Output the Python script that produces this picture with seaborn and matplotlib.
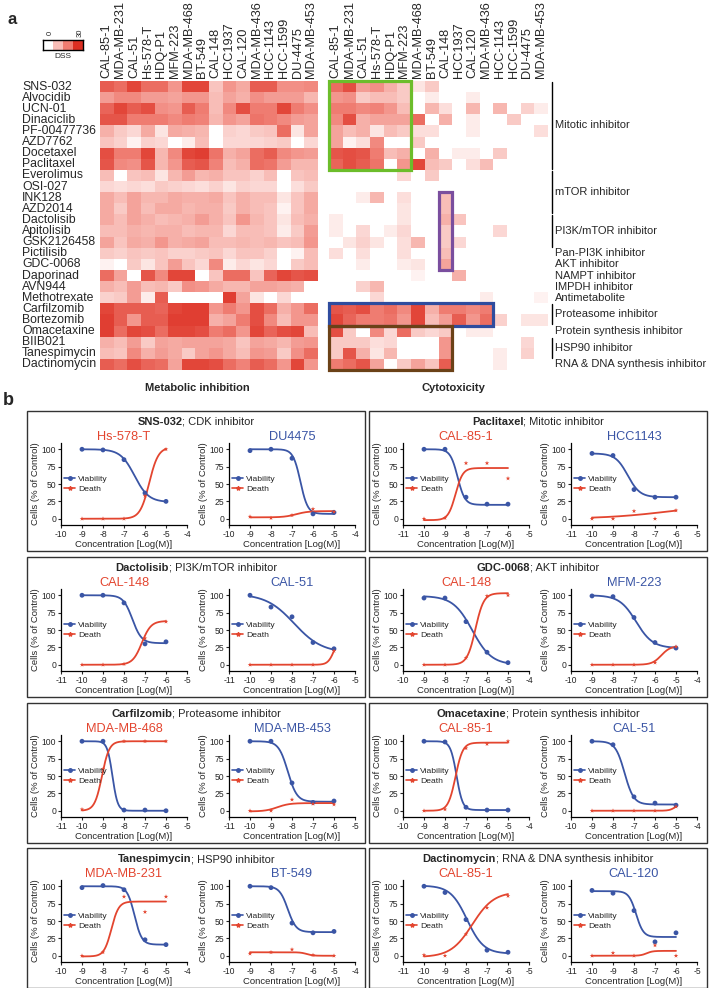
import numpy as np
import pandas as pd
import matplotlib
matplotlib.use("Agg")
import matplotlib.pyplot as plt
import seaborn as sns
from matplotlib.colors import LinearSegmentedColormap
from matplotlib.patches import Rectangle
from matplotlib.lines import Line2D

# --- DATA: panel a (DSS heatmaps) ---
CELL_LINES = ["CAL-85-1", "MDA-MB-231", "CAL-51", "Hs-578-T", "HDQ-P1", "MFM-223",
              "MDA-MB-468", "BT-549", "CAL-148", "HCC1937", "CAL-120", "MDA-MB-436",
              "HCC-1143", "HCC-1599", "DU-4475", "MDA-MB-453"]
DRUGS = ["SNS-032", "Alvocidib", "UCN-01", "Dinaciclib", "PF-00477736", "AZD7762",
         "Docetaxel", "Paclitaxel", "Everolimus", "OSI-027", "INK128", "AZD2014",
         "Dactolisib", "Apitolisib", "GSK2126458", "Pictilisib", "GDC-0068", "Daporinad",
         "AVN944", "Methotrexate", "Carfilzomib", "Bortezomib", "Omacetaxine", "BIIB021",
         "Tanespimycin", "Dactinomycin"]

META = [
    [24, 22, 27, 22, 22, 16, 27, 27, 9, 16, 13, 24, 24, 17, 17, 18],
    [15, 18, 18, 15, 15, 14, 16, 16, 10, 14, 12, 17, 15, 15, 15, 11],
    [23, 27, 24, 26, 17, 16, 24, 20, 10, 18, 26, 20, 20, 27, 20, 17],
    [25, 25, 20, 20, 20, 18, 20, 19, 11, 16, 14, 21, 20, 18, 15, 14],
    [12, 8, 6, 13, 4, 13, 12, 11, 0, 7, 6, 8, 9, 22, 4, 14],
    [9, 7, 2, 7, 6, 0, 3, 10, 0, 6, 6, 6, 7, 8, 0, 6],
    [26, 20, 20, 27, 11, 18, 27, 28, 21, 12, 14, 22, 24, 18, 16, 15],
    [25, 18, 17, 25, 11, 16, 24, 25, 19, 10, 12, 22, 21, 15, 11, 11],
    [10, 0, 9, 10, 4, 11, 15, 11, 12, 9, 9, 7, 10, 0, 9, 10],
    [6, 5, 6, 5, 8, 7, 6, 5, 7, 4, 7, 6, 6, 0, 5, 8],
    [13, 10, 14, 11, 11, 13, 12, 12, 13, 9, 12, 10, 10, 4, 9, 13],
    [13, 8, 14, 10, 13, 13, 11, 12, 12, 8, 12, 10, 9, 2, 9, 13],
    [13, 10, 14, 12, 10, 11, 12, 15, 12, 9, 16, 11, 9, 4, 10, 12],
    [10, 10, 12, 11, 12, 12, 10, 11, 11, 6, 10, 10, 9, 3, 8, 15],
    [14, 9, 13, 12, 16, 12, 13, 14, 10, 10, 11, 10, 11, 9, 10, 16],
    [8, 7, 9, 8, 9, 7, 7, 8, 9, 6, 9, 9, 7, 0, 2, 10],
    [2, 0, 8, 4, 9, 15, 9, 6, 18, 3, 6, 4, 6, 0, 8, 10],
    [22, 14, 0, 25, 18, 27, 27, 0, 9, 22, 22, 9, 23, 27, 25, 26],
    [12, 10, 15, 10, 11, 8, 17, 16, 13, 11, 11, 14, 14, 13, 12, 0],
    [7, 8, 15, 3, 24, 0, 0, 0, 0, 28, 14, 4, 0, 6, 0, 0],
    [27, 24, 24, 24, 23, 27, 28, 28, 16, 20, 16, 26, 22, 12, 16, 22],
    [28, 24, 16, 24, 24, 28, 28, 28, 12, 14, 20, 26, 18, 10, 16, 16],
    [28, 22, 27, 26, 22, 27, 27, 26, 20, 22, 16, 27, 23, 26, 27, 10],
    [12, 10, 15, 8, 14, 13, 14, 14, 14, 13, 9, 14, 13, 11, 15, 16],
    [10, 9, 18, 12, 15, 13, 8, 14, 16, 13, 10, 16, 15, 8, 17, 22],
    [24, 22, 26, 23, 22, 14, 27, 27, 26, 22, 19, 24, 22, 16, 27, 16],
]

CYTO = [
    [22, 26, 15, 17, 12, 8, 4, 8, 0, 0, 0, 0, 0, 0, 0, 0],
    [16, 17, 8, 10, 10, 8, 0, 3, 0, 0, 3, 0, 0, 0, 0, 0],
    [20, 20, 18, 19, 16, 10, 0, 11, 5, 0, 11, 0, 11, 0, 7, 3],
    [18, 26, 12, 14, 14, 14, 22, 0, 12, 0, 3, 0, 0, 8, 0, 0],
    [14, 10, 12, 4, 10, 8, 5, 5, 0, 0, 3, 0, 0, 0, 0, 5],
    [14, 2, 5, 18, 0, 0, 8, 0, 0, 0, 0, 0, 0, 0, 0, 0],
    [25, 26, 25, 20, 10, 12, 0, 12, 0, 3, 3, 0, 8, 0, 0, 0],
    [23, 26, 24, 21, 0, 16, 27, 10, 8, 0, 5, 10, 0, 0, 0, 0],
    [0, 0, 0, 0, 0, 6, 0, 8, 0, 0, 0, 0, 0, 0, 0, 0],
    [0, 0, 0, 0, 0, 0, 0, 0, 0, 0, 0, 0, 0, 0, 0, 0],
    [0, 0, 3, 11, 0, 5, 0, 0, 10, 0, 0, 0, 0, 0, 0, 0],
    [0, 0, 0, 0, 0, 4, 0, 0, 10, 0, 0, 0, 0, 0, 0, 0],
    [3, 0, 0, 0, 0, 4, 0, 0, 12, 9, 0, 0, 0, 0, 0, 0],
    [3, 0, 6, 0, 3, 6, 0, 0, 8, 0, 0, 0, 6, 0, 0, 0],
    [0, 4, 7, 4, 0, 5, 11, 0, 8, 6, 0, 0, 0, 0, 0, 0],
    [5, 0, 5, 0, 0, 5, 0, 0, 10, 0, 0, 0, 0, 0, 0, 0],
    [0, 0, 3, 0, 0, 3, 4, 0, 14, 0, 0, 0, 0, 0, 0, 0],
    [0, 0, 0, 0, 0, 0, 2, 0, 0, 12, 0, 0, 0, 0, 0, 0],
    [0, 0, 7, 11, 0, 0, 0, 0, 0, 0, 0, 0, 0, 0, 0, 0],
    [0, 0, 0, 6, 0, 0, 0, 0, 0, 0, 0, 3, 0, 0, 0, 2],
    [25, 24, 26, 20, 22, 18, 27, 12, 20, 20, 18, 20, 0, 0, 0, 0],
    [27, 23, 20, 20, 21, 16, 27, 10, 15, 24, 16, 22, 7, 0, 4, 4],
    [26, 8, 0, 18, 6, 22, 8, 6, 8, 0, 3, 3, 0, 0, 0, 0],
    [8, 8, 8, 5, 6, 0, 0, 0, 16, 0, 0, 0, 0, 0, 6, 0],
    [8, 25, 12, 4, 11, 0, 0, 0, 16, 0, 0, 0, 3, 0, 7, 0],
    [20, 22, 25, 14, 0, 8, 14, 9, 24, 0, 0, 0, 3, 0, 0, 0],
]

DSS_LEGEND = [0, 10, 20, 30]

GROUP_LABELS = ["Mitotic inhibitor", "mTOR inhibitor", "PI3K/mTOR inhibitor",
                "Pan-PI3K inhibitor", "AKT inhibitor", "NAMPT inhibitor",
                "IMPDH inhibitor", "Antimetabolite", "Proteasome inhibitor",
                "Protein synthesis inhibitor", "HSP90 inhibitor",
                "RNA & DNA synthesis inhibitor"]
GROUP_FIRST = [0, 8, 12, 15, 16, 17, 18, 19, 20, 22, 23, 25]
GROUP_LAST = [7, 11, 14, 15, 16, 17, 18, 19, 21, 22, 24, 25]

# highlighted blocks: (first col, last col, first row, last row, colour)
HIGHLIGHTS = [(0, 5, 0, 7, "#6cbd2b"), (8, 8, 10, 16, "#7a4e9e"),
              (0, 11, 20, 21, "#2f4c9e"), (0, 8, 22, 25, "#6b4117")]

# --- DATA: panel b (dose response) ---
PANEL_DRUGS = ["SNS-032", "Paclitaxel", "Dactolisib", "GDC-0068",
               "Carfilzomib", "Omacetaxine", "Tanespimycin", "Dactinomycin"]
PANEL_MECH = ["CDK inhibitor", "Mitotic inhibitor", "PI3K/mTOR inhibitor", "AKT inhibitor",
              "Proteasome inhibitor", "Protein synthesis inhibitor", "HSP90 inhibitor",
              "RNA & DNA synthesis inhibitor"]
SENSITIVE = ["Hs-578-T", "CAL-85-1", "CAL-148", "CAL-148",
             "MDA-MB-468", "CAL-85-1", "MDA-MB-231", "CAL-85-1"]
RESISTANT = ["DU4475", "HCC1143", "CAL-51", "MFM-223",
             "MDA-MB-453", "CAL-51", "BT-549", "CAL-120"]
CONC = [
    [-9, -8, -7, -6, -5],
    [-10, -9, -8, -7, -6],
    [-10, -9, -8, -7, -6],
    [-9, -8, -7, -6, -5],
    [-10, -9, -8, -7, -6],
    [-9, -8, -7, -6, -5],
    [-9, -8, -7, -6, -5],
    [-10, -9, -8, -7, -6],
]
# two series per panel: sensitive line then resistant line
VIAB_PTS = [
    [100, 99, 85, 37, 25], [98, 100, 87, 7, 9],
    [100, 100, 31, 21, 21], [94, 91, 42, 31, 31],
    [100, 100, 89, 30, 33], [100, 83, 69, 32, 23],
    [96, 96, 62, 18, 3], [99, 98, 68, 32, 24],
    [100, 100, 1, 1, 0], [100, 100, 40, 12, 14],
    [100, 99, 5, 1, 1], [100, 95, 20, 11, 8],
    [98, 101, 95, 23, 16], [100, 98, 47, 33, 35],
    [100, 91, 52, 8, 5], [94, 90, 65, 20, 33],
]
DEATH_PTS = [
    [0, 0, 0, 33, 100], [3, 1, 5, 14, 10],
    [0, 1, 80, 80, 58], [0, 0, 11, 0, 12],
    [0, 0, 1, 38, 62], [0, 0, 0, 0, 20],
    [0, 0, 10, 99, 100], [0, 0, 0, 3, 26],
    [2, 60, 100, 100, 100], [0, 0, 16, 10, 9],
    [0, 2, 90, 96, 100], [0, 0, 0, 0, 6],
    [0, 5, 85, 63, 85], [3, 5, 9, 1, 0],
    [1, 0, 31, 69, 86], [0, 4, 0, 15, 0],
]
# fitted 4PL curves: (left plateau, right plateau, logEC50, slope)
VIAB_FIT = [
    (100, 24, -6.5, 1.3), (100, 7, -6.6, 2.5),
    (100, 20, -8.4, 2.5), (94, 31, -8.3, 1.5),
    (100, 31, -7.6, 2.0), (102, 17, -7.9, 0.65),
    (99, 0, -6.7, 0.95), (100, 24, -6.9, 1.1),
    (100, 0, -8.55, 3.5), (100, 13, -8.2, 2.0),
    (100, 1, -7.45, 3.0), (100, 9, -7.45, 2.0),
    (100, 16, -6.5, 2.5), (100, 34, -7.2, 2.2),
    (101, 3, -7.95, 1.1), (93, 27, -7.9, 2.5),
]
DEATH_FIT = [
    (0, 103, -5.8, 2.0), (2, 11, -6.8, 1.5),
    (-2, 73, -8.5, 2.5), (0, 20, -6.5, 0.3),
    (0, 63, -7.15, 2.0), (0, 40, -6.0, 3.0),
    (0, 103, -6.55, 2.2), (0, 27, -5.7, 2.0),
    (0, 100, -9.05, 2.5), (-1, 11, -8.7, 1.5),
    (0, 98, -7.5, 2.5), (0, 12, -5.0, 3.0),
    (-1, 78, -7.6, 2.5), (5, 0, -6.3, 3.0),
    (-2, 92, -7.7, 0.85), (0, 7, -7.4, 3.0),
]

# --- STYLE ---
W, H = 712, 988
BLUE = "#3a55a5"
RED = "#e3452f"
HEAT = LinearSegmentedColormap.from_list("dss", ["#ffffff", "#f8bdb7", "#ef7c71", "#dc2f22"])

sns.set_theme(style="white")
plt.rcParams["font.family"] = ["Liberation Sans", "DejaVu Sans"]
plt.rcParams["axes.unicode_minus"] = False


def px(x, y, w, h):
    return [x / W, 1 - (y + h) / H, w / W, h / H]


def logistic(x, p):
    left, right, ec50, slope = p
    return right + (left - right) / (1 + 10 ** ((x - ec50) * slope))


fig = plt.figure(figsize=(W / 100, H / 100), dpi=100)

# ---------------- panel a ----------------
fig.text(12 / W, 1 - 20 / H, "a", fontsize=12, fontweight="bold", ha="center", va="center")

ax_m = fig.add_axes(px(100, 81, 218, 289))
sns.heatmap(pd.DataFrame(META, index=DRUGS, columns=CELL_LINES), cmap=HEAT, vmin=0, vmax=30,
            cbar=False, ax=ax_m, xticklabels=True, yticklabels=True)
ax_m.xaxis.tick_top()
ax_m.set_xticklabels(CELL_LINES, rotation=90, fontsize=9.2)
ax_m.set_yticklabels(DRUGS, rotation=0, fontsize=8.8, ha="left")
ax_m.tick_params(axis="x", length=0, pad=2)
ax_m.tick_params(axis="y", length=0, pad=56)
ax_m.set_xlabel("")
ax_m.set_ylabel("")

ax_c = fig.add_axes(px(329, 81, 219, 289))
sns.heatmap(pd.DataFrame(CYTO, index=DRUGS, columns=CELL_LINES), cmap=HEAT, vmin=0, vmax=30,
            cbar=False, ax=ax_c, xticklabels=True, yticklabels=False)
ax_c.xaxis.tick_top()
ax_c.set_xticklabels(CELL_LINES, rotation=90, fontsize=9.2)
ax_c.tick_params(axis="x", length=0, pad=2)
ax_c.set_xlabel("")
ax_c.set_ylabel("")

for c0, c1, r0, r1, col in HIGHLIGHTS:
    ax_c.add_patch(Rectangle((c0, r0), c1 - c0 + 1, r1 - r0 + 1, fill=False,
                             ec=col, lw=2.3, clip_on=False, zorder=5))

for lab, r0, r1 in zip(GROUP_LABELS, GROUP_FIRST, GROUP_LAST):
    if r1 > r0:
        ax_c.plot([16.3, 16.3], [r0 + 0.1, r1 + 0.9], color="black", lw=1, clip_on=False)
    ax_c.text(16.5, (r0 + r1 + 1) / 2, lab, fontsize=8.0, va="center", ha="left", clip_on=False)

# DSS colour key
ax_k = fig.add_axes(px(43, 40, 40, 10))
sns.heatmap(pd.DataFrame([DSS_LEGEND]), cmap=HEAT, vmin=0, vmax=30, cbar=False, ax=ax_k,
            xticklabels=False, yticklabels=False)
for s in ax_k.spines.values():
    s.set_visible(True)
    s.set_color("black")
    s.set_linewidth(1)
fig.text(50 / W, 1 - 33 / H, "0", fontsize=5.5, rotation=90, ha="center", va="center")
fig.text(80 / W, 1 - 33 / H, "30", fontsize=5.5, rotation=90, ha="center", va="center")
fig.text(63 / W, 1 - 57 / H, "DSS", fontsize=6, ha="center", va="center")

fig.text(197 / W, 1 - 388 / H, "Metabolic inhibition", fontsize=8, fontweight="bold",
         ha="center", va="center")
fig.text(453 / W, 1 - 388 / H, "Cytotoxicity", fontsize=8, fontweight="bold",
         ha="center", va="center")

# ---------------- panel b ----------------
fig.text(8 / W, 1 - 400 / H, "b", fontsize=13, fontweight="bold", ha="center", va="center")

BOX_TOPS = [411, 557, 703, 848]
BOX_LEFTS = [27, 369]
BOX_W, BOX_H = 338, 140
renderer = fig.canvas.get_renderer()

for k in range(8):
    r, c = divmod(k, 2)
    bx, by = BOX_LEFTS[c], BOX_TOPS[r]
    fig.add_artist(Rectangle((bx / W, 1 - (by + BOX_H) / H), BOX_W / W, BOX_H / H,
                             transform=fig.transFigure, fill=False, ec="#333333", lw=1))

    # title: bold drug name + regular mechanism, centred together
    ty = 1 - (by + 11) / H
    t1 = fig.text(0, ty, PANEL_DRUGS[k], fontsize=8, fontweight="bold", va="center")
    t2 = fig.text(0, ty, "; " + PANEL_MECH[k], fontsize=8, va="center")
    w1 = t1.get_window_extent(renderer).width / fig.bbox.width
    w2 = t2.get_window_extent(renderer).width / fig.bbox.width
    x0 = (bx + BOX_W / 2) / W - (w1 + w2) / 2
    t1.set_x(x0)
    t2.set_x(x0 + w1)

    xs = np.array(CONC[k], dtype=float)
    for j in range(2):
        idx = 2 * k + j
        ax = fig.add_axes(px(bx + [34, 202][j], by + 32, 126, 82))
        xfit = np.linspace(xs.min(), xs.max(), 200)
        curves = pd.DataFrame({
            "conc": np.concatenate([xfit, xfit]),
            "value": np.concatenate([logistic(xfit, VIAB_FIT[idx]), logistic(xfit, DEATH_FIT[idx])]),
            "readout": ["Viability"] * len(xfit) + ["Death"] * len(xfit),
        })
        pts = pd.DataFrame({
            "conc": np.concatenate([xs, xs]),
            "value": VIAB_PTS[idx] + DEATH_PTS[idx],
            "readout": ["Viability"] * len(xs) + ["Death"] * len(xs),
        })
        pal = {"Viability": BLUE, "Death": RED}
        sns.lineplot(data=curves, x="conc", y="value", hue="readout", palette=pal,
                     lw=1.3, legend=False, ax=ax)
        sns.scatterplot(data=pts, x="conc", y="value", hue="readout", palette=pal,
                        style="readout", markers={"Viability": "o", "Death": "*"},
                        s=12, linewidth=0, legend=False, ax=ax, zorder=3)

        ax.set_xlim(xs.min() - 1, xs.max() + 1)
        ax.set_ylim(-9, 109)
        ax.set_xticks(np.arange(xs.min() - 1, xs.max() + 2))
        ax.set_xticklabels([str(int(v)) for v in ax.get_xticks()])
        ax.set_yticks([0, 25, 50, 75, 100])
        ax.tick_params(labelsize=6.2, length=2.5, width=0.8, pad=1, direction="out",
                       bottom=True, left=True)
        ax.set_xlabel("Concentration [Log(M)]", fontsize=6.8, labelpad=1)
        ax.set_ylabel("Cells (% of Control)", fontsize=6.8, labelpad=1)
        sns.despine(ax=ax)
        for s in ("left", "bottom"):
            ax.spines[s].set_color("black")
            ax.spines[s].set_linewidth(0.9)

        name = SENSITIVE[k] if j == 0 else RESISTANT[k]
        ax.set_title(name, color=RED if j == 0 else BLUE, fontsize=9.2, pad=2)

        handles = [Line2D([], [], color=BLUE, marker="o", ms=2.5, lw=1.2),
                   Line2D([], [], color=RED, marker="*", ms=3, lw=1.2)]
        ax.legend(handles, ["Viability", "Death"], loc="center left", bbox_to_anchor=(0.0, 0.5),
                  fontsize=6.1, frameon=False, handlelength=1.3, handletextpad=0.3,
                  labelspacing=0.2, borderpad=0.2, borderaxespad=0.2)

fig.savefig("out.png", dpi=100)
